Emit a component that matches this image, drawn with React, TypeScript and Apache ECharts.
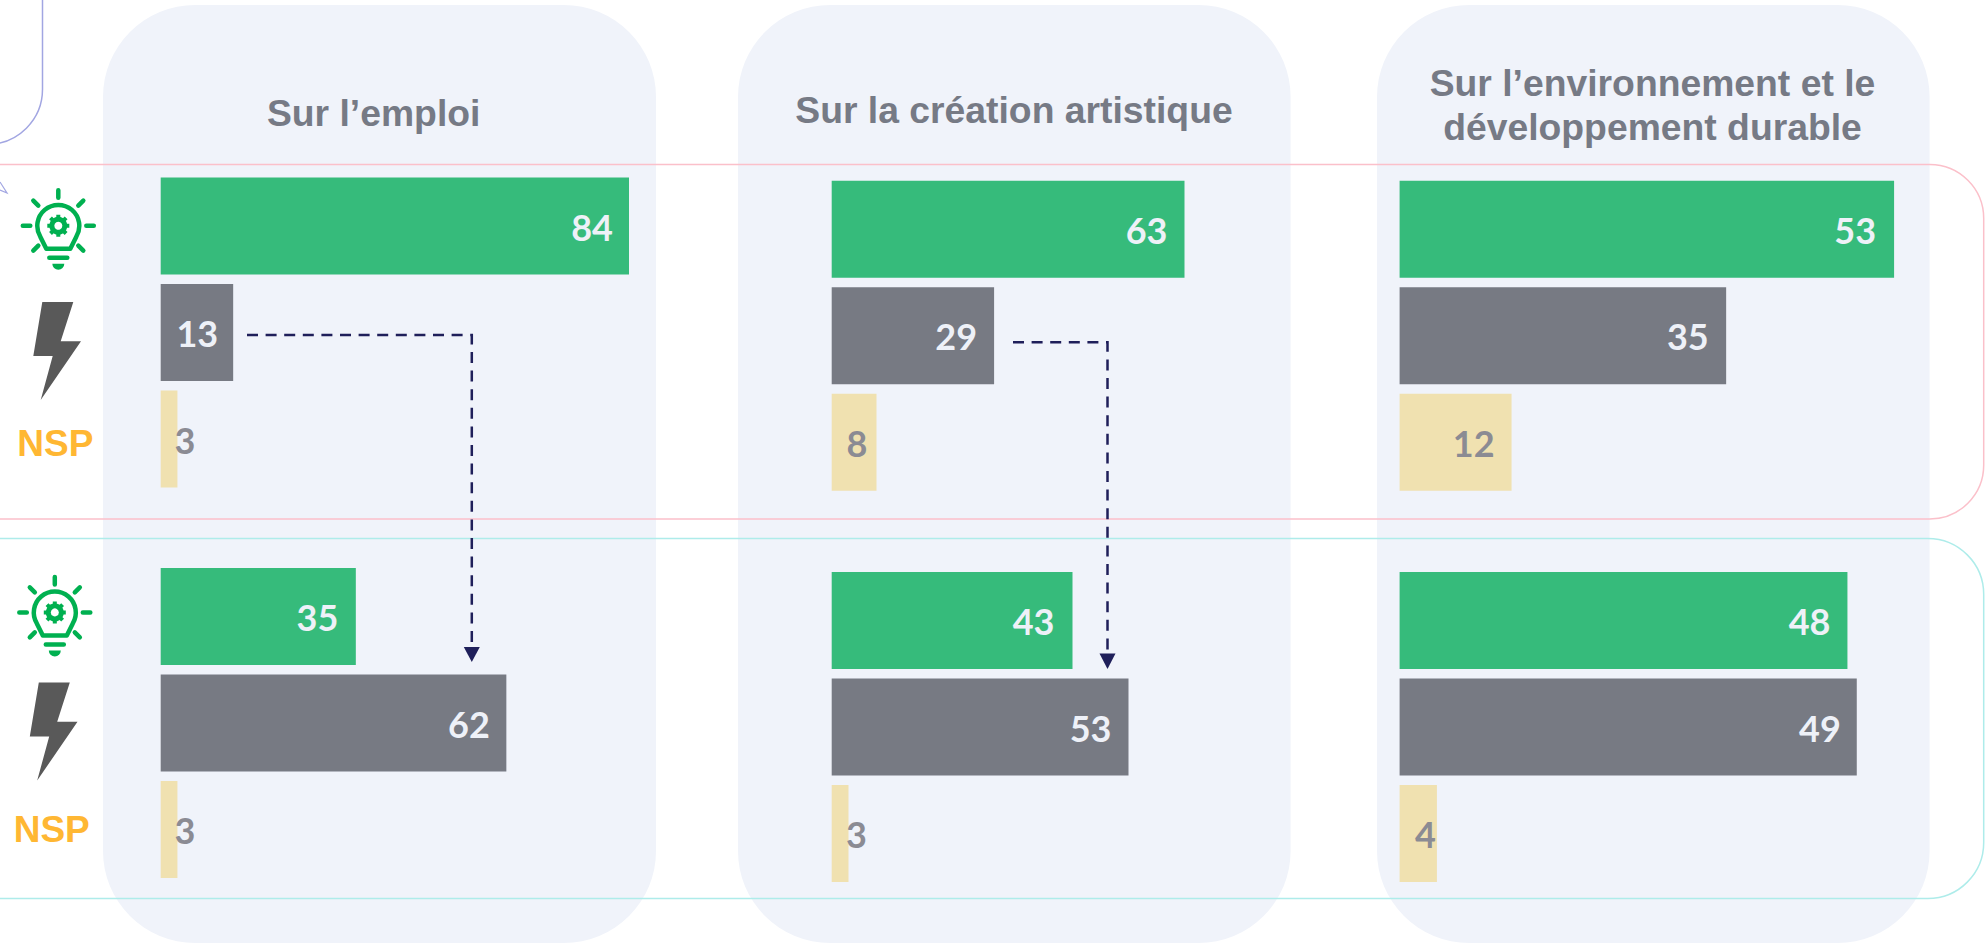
import React, { useEffect, useRef } from "react";
import * as echarts from "echarts";

const categories = ["Opportunité", "Menace", "NSP"];
const panelTitles = [
  ["Sur l’emploi"],
  ["Sur la création artistique"],
  ["Sur l’environnement et le", "développement durable"],
];
const emploiHaut = [84, 13, 3];
const emploiBas = [35, 62, 3];
const creationHaut = [63, 29, 8];
const creationBas = [43, 53, 3];
const environnementHaut = [53, 35, 12];
const environnementBas = [48, 49, 4];
const nspLabel = "NSP";

const GREEN = "#36bb7b";
const GREY = "#777a83";
const YELLOW = "#f0e1b0";
const PANEL = "#f0f3fa";
const barColors = [GREEN, GREY, YELLOW];
const labelColors = ["#eef1f8", "#eef1f8", "#8b8b93"];
const PITCH = 106.5;
const BAR = 97;
const FONT = "'Liberation Sans', Arial, sans-serif";

const charts = [
  { values: emploiHaut, left: 160.7, top: 177.5, max: 90, scale: 5.575, inset: [16, 15, -18] },
  { values: emploiBas, left: 160.7, top: 568, max: 90, scale: 5.575, inset: [17.5, 16.5, -18] },
  { values: creationHaut, left: 831.7, top: 180.7, max: 70, scale: 5.6, inset: [17, 17, 9] },
  { values: creationBas, left: 831.7, top: 572, max: 70, scale: 5.6, inset: [18, 17, -18.5] },
  { values: environnementHaut, left: 1399.6, top: 180.7, max: 55, scale: 9.33, inset: [18, 17.5, 17] },
  { values: environnementBas, left: 1399.6, top: 572, max: 55, scale: 9.33, inset: [17, 16, 1] },
];

const panels = [
  { x: 103, w: 553, cx: 373.7, lines: [113] },
  { x: 738, w: 552.6, cx: 1014, lines: [110] },
  { x: 1377, w: 552.6, cx: 1652.5, lines: [83, 127.7] },
];

echarts.graphic.registerShape(
  "bulbOutline",
  echarts.graphic.extendPath("M -12 23 L 12 23 L 18 11 A 21 21 0 1 0 -18 11 Z M -9 32 L 9 32", {})
);
echarts.graphic.registerShape(
  "bulbRays",
  echarts.graphic.extendPath(
    "M 0 -35.5 L 0 -28 M -35.5 0 L -28 0 M 35.5 0 L 28 0 M -25 -25 L -20 -20 M 25 -25 L 20 -20 M -25 25 L -20 20 M 25 25 L 20 20",
    {}
  )
);
echarts.graphic.registerShape(
  "bulbGear",
  echarts.graphic.extendPath(
    "M 0 -11 L 0 11 M -11 0 L 11 0 M -7.8 -7.8 L 7.8 7.8 M -7.8 7.8 L 7.8 -7.8",
    {}
  )
);
echarts.graphic.registerShape(
  "bulbFoot",
  echarts.graphic.extendPath("M -6 38 L 6 38 A 6 6 0 0 1 -6 38 Z", {})
);

function bulb(x: number, y: number) {
  const G = "#00b050";
  return {
    type: "group",
    x,
    y,
    z: 5,
    children: [
      { type: "bulbRays", style: { stroke: G, fill: "none", lineWidth: 4.5, lineCap: "round" } },
      { type: "bulbOutline", style: { stroke: G, fill: "none", lineWidth: 4.5, lineJoin: "round", lineCap: "round" } },
      { type: "bulbGear", style: { stroke: G, fill: "none", lineWidth: 4 } },
      { type: "circle", shape: { cx: 0, cy: 0, r: 9 }, style: { fill: G } },
      { type: "circle", shape: { cx: 0, cy: 0, r: 4 }, style: { fill: "#ffffff" } },
      { type: "bulbFoot", style: { fill: G } },
    ],
  };
}

function bolt(dx: number, dy: number) {
  return {
    type: "polygon",
    z: 5,
    shape: {
      points: [
        [42.3 + dx, 302 + dy],
        [73.3 + dx, 302 + dy],
        [60.7 + dx, 341.3 + dy],
        [81 + dx, 341.3 + dy],
        [40.7 + dx, 400 + dy],
        [52.7 + dx, 356 + dy],
        [33.3 + dx, 356 + dy],
      ],
    },
    style: { fill: "#595959" },
  };
}

function nsp(x: number, y: number) {
  return {
    type: "text",
    z: 5,
    style: {
      text: nspLabel,
      x,
      y,
      font: `bold 37px ${FONT}`,
      fill: "#ffb733",
      align: "center",
      verticalAlign: "alphabetic",
      textAlign: "center",
      textBaseline: "alphabetic",
    },
  };
}

function arrow(x0: number, y0: number, x1: number, y1: number, tip: number) {
  return [
    {
      type: "polyline",
      z: 10,
      shape: { points: [[x0, y0], [x1, y0], [x1, y1]] },
      style: { stroke: "#1f1f5a", fill: "none", lineWidth: 2.5, lineDash: [11, 7.6] },
    },
    {
      type: "polygon",
      z: 10,
      shape: { points: [[x1 - 8, y1], [x1 + 8, y1], [x1, tip]] },
      style: { fill: "#1f1f5a" },
    },
  ];
}

function rounded(x: number, y: number, w: number, h: number, r: number, stroke: string) {
  return {
    type: "rect",
    z: 1,
    shape: { x, y, width: w, height: h, r },
    style: { fill: "none", stroke, lineWidth: 1.5 },
  };
}

function buildOption() {
  const graphicElements: any[] = [];
  panels.forEach((p) => {
    graphicElements.push({
      type: "rect",
      z: 0,
      shape: { x: p.x, y: 5, width: p.w, height: 938, r: 92 },
      style: { fill: PANEL },
    });
  });
  graphicElements.push(rounded(-60, 164.5, 2043.7, 354.5, 54, "#fbc0ca"));
  graphicElements.push(rounded(-60, 538.5, 2043.7, 360, 56, "#aeecea"));
  graphicElements.push(rounded(-300, -100, 342.5, 244.3, 55, "#a2a6e2"));
  graphicElements.push({
    type: "polyline",
    z: 1,
    shape: { points: [[0, 182], [7, 193], [0, 190]] },
    style: { stroke: "#a2a6e2", fill: "none", lineWidth: 1.2 },
  });
  panels.forEach((p, i) => {
    panelTitles[i].forEach((line, j) => {
      graphicElements.push({
        type: "text",
        z: 5,
        style: {
          text: line,
          x: p.cx,
          y: p.lines[j] - 19,
          font: `bold 37.3px ${FONT}`,
          fill: "#767a85",
          align: "center",
          verticalAlign: "alphabetic",
          textAlign: "center",
          textBaseline: "alphabetic",
        },
      });
    });
  });
  graphicElements.push(bulb(58.3, 225.7), bulb(54.8, 612.4));
  graphicElements.push(bolt(0, 0), bolt(-3.5, 380.5));
  graphicElements.push(nsp(55.3, 424.5), nsp(51.7, 811.2));
  graphicElements.push(...arrow(247, 335, 471.8, 647, 662));
  graphicElements.push(...arrow(1013, 342.3, 1107.5, 653.5, 669));

  return {
    animation: false,
    backgroundColor: "#ffffff",
    graphic: { elements: graphicElements },
    grid: charts.map((c) => ({
      left: c.left,
      top: c.top - (PITCH - BAR) / 2,
      width: c.max * c.scale,
      height: PITCH * 3,
      containLabel: false,
    })),
    xAxis: charts.map((c, i) => ({ type: "value", gridIndex: i, min: 0, max: c.max, show: false })),
    yAxis: charts.map((_, i) => ({
      type: "category",
      gridIndex: i,
      inverse: true,
      data: categories,
      show: false,
    })),
    series: charts.map((c, i) => ({
      type: "bar",
      xAxisIndex: i,
      yAxisIndex: i,
      barWidth: BAR,
      z: 3,
      data: c.values.map((v, k) => ({
        value: v,
        itemStyle: { color: barColors[k] },
        label: {
          show: true,
          position: "insideRight",
          distance: 0,
          offset: [-c.inset[k], 0.5],
          color: labelColors[k],
          fontFamily: "Lato, sans-serif",
          fontWeight: 700,
          fontSize: 36,
        },
      })),
    })),
  };
}

export default function App() {
  const ref = useRef<HTMLDivElement>(null);
  useEffect(() => {
    const chart = echarts.init(ref.current!, undefined, { renderer: "svg" });
    chart.setOption(buildOption() as any);
    return () => chart.dispose();
  }, []);
  return (
    <div
      ref={ref}
      style={{ position: "fixed", left: 0, top: 0, width: 1985, height: 944 }}
    />
  );
}
